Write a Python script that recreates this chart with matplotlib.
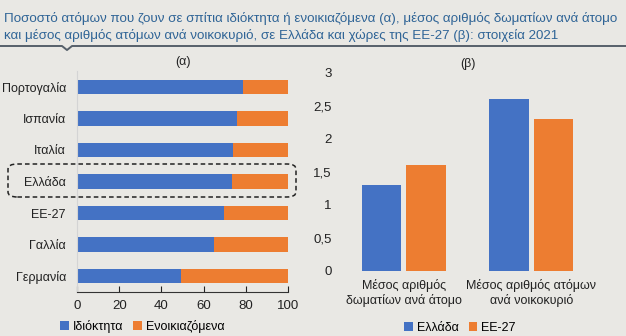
import numpy as np
import matplotlib
matplotlib.use("Agg")
from matplotlib import pyplot as plt
from matplotlib.patches import FancyBboxPatch
from matplotlib.lines import Line2D

plt.rcParams["font.family"] = ["Liberation Sans", "DejaVu Sans"]

# (α) share of people living in owned / rented homes, 2021
countries = ["Πορτογαλία", "Ισπανία", "Ιταλία", "Ελλάδα", "ΕΕ-27", "Γαλλία", "Γερμανία"]
owned = [78.5, 76.0, 73.7, 73.3, 69.9, 64.7, 49.4]
rented = [100 - v for v in owned]

# (β) averages
metrics = ["Μέσος αριθμός\nδωματίων ανά άτομο", "Μέσος αριθμός ατόμων\nανά νοικοκυριό"]
greece = [1.3, 2.6]
eu27 = [1.6, 2.3]

BG = "#e9e8e4"
BLUE = "#4472c4"
ORANGE = "#ed7d31"
TXT = "#222222"

fig = plt.figure(figsize=(6.26, 3.36), dpi=100, facecolor=BG)

# title + separator
fig.text(0.006, 0.945, "Ποσοστό ατόμων που ζουν σε σπίτια ιδιόκτητα ή ενοικιαζόμενα (α), μέσος αριθμός δωματίων ανά άτομο",
         fontsize=9.6, color="#2f6496", va="center")
fig.text(0.006, 0.893, "και μέσος αριθμός ατόμων ανά νοικοκυριό, σε Ελλάδα και χώρες της ΕΕ-27 (β): στοιχεία 2021",
         fontsize=9.6, color="#2f6496", va="center")
sep_y = 1 - 46 / 336
notch = 67 / 626
fig.add_artist(Line2D([0, notch - 0.008, notch, notch + 0.008, 1],
                      [sep_y, sep_y, sep_y - 0.012, sep_y, sep_y],
                      transform=fig.transFigure, color="#56606a", lw=1.4))

# left panel
ax1 = fig.add_axes([77 / 626, 1 - 292 / 336, 211 / 626, 221 / 336])
ax1.set_facecolor(BG)
y = np.arange(len(countries))[::-1]
ax1.barh(y, owned, height=0.46, color=BLUE, label="Ιδιόκτητα")
ax1.barh(y, rented, left=owned, height=0.46, color=ORANGE, label="Ενοικιαζόμενα")
ax1.set_xlim(0, 100)
ax1.set_ylim(-0.5, len(countries) - 0.5)
ax1.set_yticks(y)
ax1.set_yticklabels(countries, fontsize=9, color=TXT)
ax1.set_xticks(np.arange(0, 101, 20))
ax1.tick_params(axis="x", labelsize=9.5, colors=TXT, direction="in", length=4, pad=6)
ax1.tick_params(axis="y", length=0, pad=8)
for s in ["top", "right"]:
    ax1.spines[s].set_visible(False)
ax1.spines["left"].set_color("#d4d4d4")
ax1.spines["bottom"].set_color("#333333")
ax1.set_title("(α)", fontsize=9, color=TXT, pad=4)
ax1.legend(loc="center", bbox_to_anchor=(0.31, -0.155), ncol=2, frameon=False,
           fontsize=9, handlelength=0.7, handleheight=0.7, handletextpad=0.3,
           columnspacing=0.8, borderaxespad=0)

# dashed box around Ελλάδα
fig.add_artist(FancyBboxPatch((8 / 626, 1 - 197 / 336), 288 / 626, 33 / 336,
                              boxstyle="round,pad=0,rounding_size=0.015",
                              transform=fig.transFigure, fill=False,
                              ec="#222222", lw=1.1, ls=(0, (3, 2))))

# right panel
ax2 = fig.add_axes([340 / 626, 1 - 270.7 / 336, 255 / 626, 198 / 336])
ax2.set_facecolor(BG)
x = np.arange(len(metrics))
w = 0.31
ax2.bar(x - w / 2 - 0.02, greece, width=w, color=BLUE, label="Ελλάδα")
ax2.bar(x + w / 2 + 0.02, eu27, width=w, color=ORANGE, label="ΕΕ-27")
ax2.set_xlim(-0.5, 1.5)
ax2.set_ylim(0, 3)
yt = np.arange(0, 3.01, 0.5)
ax2.set_yticks(yt)
ax2.set_yticklabels([f"{v:g}".replace(".", ",") for v in yt])
ax2.set_xticks(x)
ax2.set_xticklabels(metrics, fontsize=9, color=TXT)
ax2.tick_params(axis="y", labelsize=9.5, colors=TXT, length=0, pad=6)
ax2.tick_params(axis="x", length=0, pad=6)
for s in ax2.spines.values():
    s.set_visible(False)
ax2.set_title("(β)", fontsize=9, color=TXT, pad=4)
ax2.legend(loc="center", bbox_to_anchor=(0.47, -0.29), ncol=2, frameon=False,
           fontsize=9, handlelength=0.7, handleheight=0.7, handletextpad=0.3,
           columnspacing=0.8, borderaxespad=0)

fig.savefig("out.png", dpi=100, facecolor=BG)
